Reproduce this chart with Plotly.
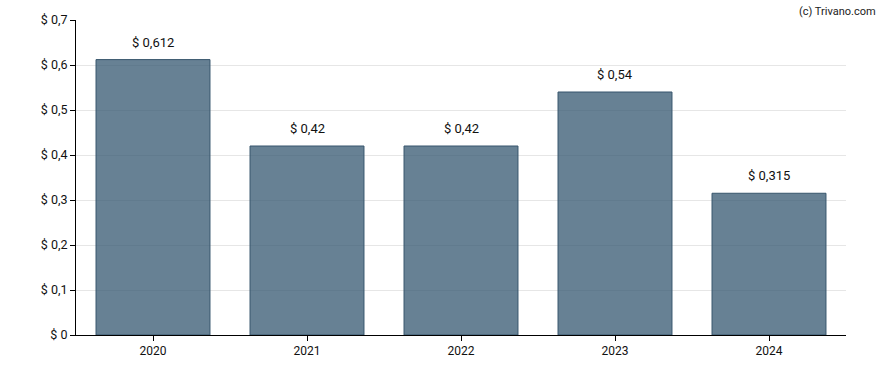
import plotly.graph_objects as go

years = ["2020", "2021", "2022", "2023", "2024"]
values = [0.612, 0.42, 0.42, 0.54, 0.315]
ytick_vals = [0, 0.1, 0.2, 0.3, 0.4, 0.5, 0.6, 0.7]
ytick_text = ["$ 0", "$ 0,1", "$ 0,2", "$ 0,3", "$ 0,4", "$ 0,5", "$ 0,6", "$ 0,7"]
labels = ["$ " + str(v).replace(".", ",") for v in values]

fig = go.Figure()
fig.add_trace(go.Bar(
    x=years, y=values,
    text=labels, textposition="none",
    marker=dict(color="rgba(52,87,112,0.75)", line=dict(color="rgba(55,85,108,1)", width=1)),
    hoverinfo="skip",
))
for i, (v, t) in enumerate(zip(values, labels)):
    fig.add_annotation(x=i, y=v, text=t, showarrow=False, yanchor="bottom", yshift=8,
                       font=dict(family="Roboto", size=13, color="#111"))
fig.add_annotation(xref="paper", yref="paper", x=1.0, xshift=32, y=1.0, yshift=9,
                   xanchor="right", yanchor="middle", text="(c) Trivano.com", showarrow=False,
                   font=dict(family="Roboto", size=11, color="#222"))

fig.update_layout(
    width=888, height=370,
    margin=dict(l=76, r=42, t=20, b=35),
    paper_bgcolor="white", plot_bgcolor="white",
    bargap=0.26,
    showlegend=False,
    font=dict(family="Roboto", size=12, color="#111"),
    xaxis=dict(type="category", categoryorder="array", categoryarray=years,
               range=[-0.5, len(years) - 0.5], autorange=False,
               showline=True, linecolor="black", linewidth=1, ticks="outside",
               ticklen=5, tickcolor="black", showgrid=False, tickfont=dict(size=12)),
    yaxis=dict(range=[0, 0.7], autorange=False, tickvals=ytick_vals, ticktext=ytick_text,
               showline=True, linecolor="black", linewidth=1, ticks="outside", ticklen=5,
               tickcolor="black", showgrid=True, gridcolor="#e6e6e6", gridwidth=1,
               zeroline=False, tickfont=dict(size=12.5)),
)
fig.write_html("out.html", config={"displayModeBar": False},
               post_script="document.body.style.margin='0';")
